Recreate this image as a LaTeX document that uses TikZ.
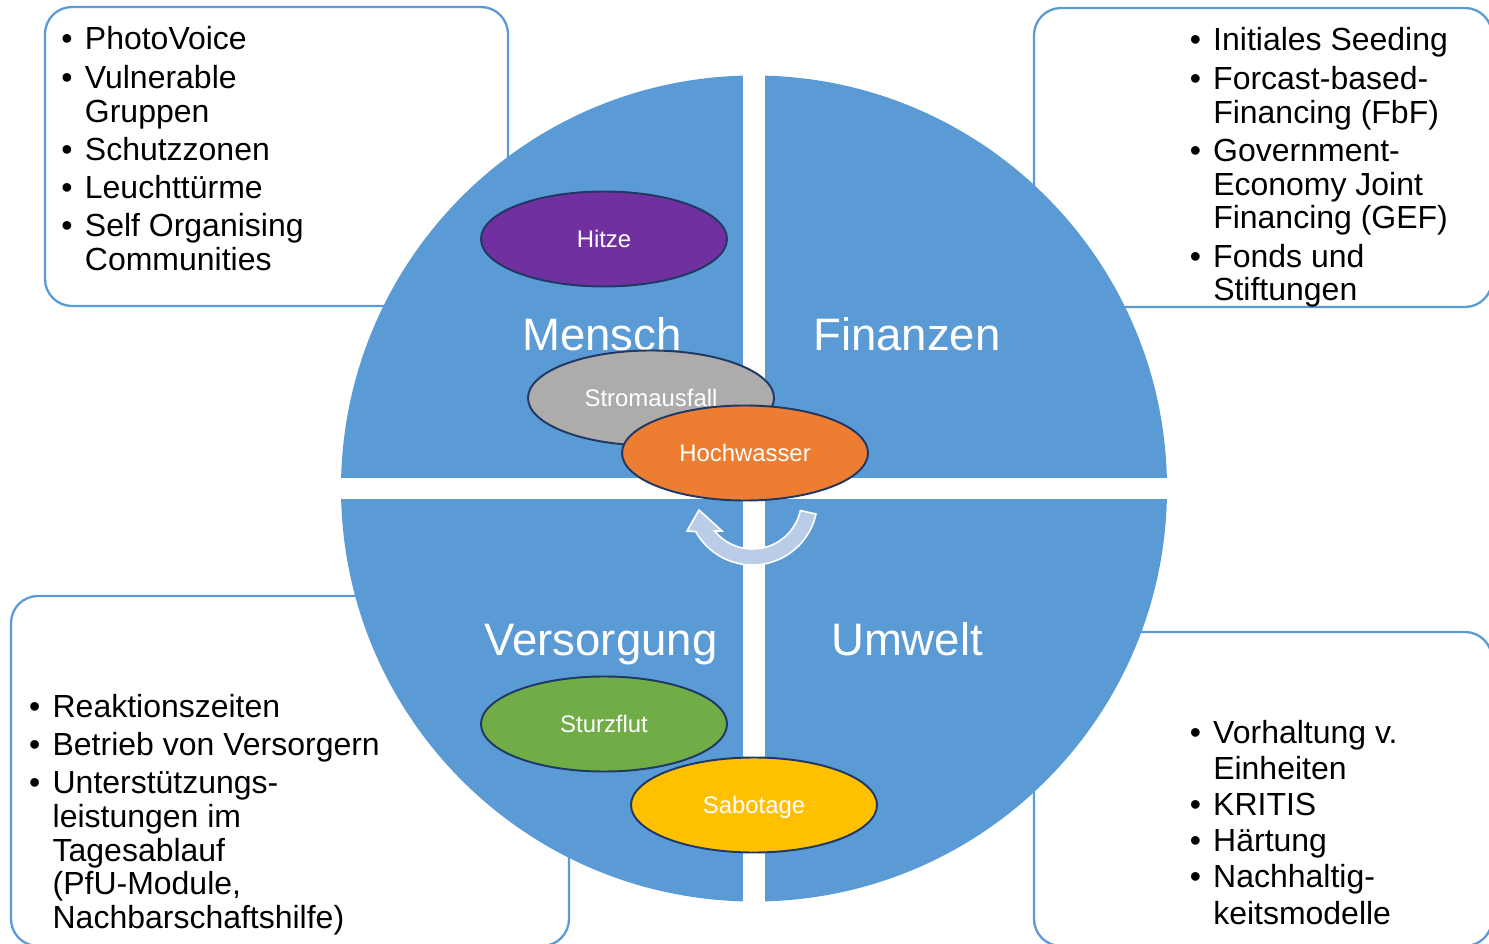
\documentclass[tikz,border=0pt]{standalone}
\usepackage{fontspec}
\setmainfont{Liberation Sans}
\usetikzlibrary{shapes.geometric}

\definecolor{quadblue}{HTML}{5B9BD5}
\definecolor{hazardline}{HTML}{203864}
\definecolor{hitzecol}{HTML}{7030A0}
\definecolor{stromcol}{HTML}{AEABAB}
\definecolor{flutcol}{HTML}{ED7D31}
\definecolor{sturzcol}{HTML}{70AD47}
\definecolor{sabotcol}{HTML}{FFC000}
\definecolor{turnblue}{HTML}{BACDE8}

\newcommand{\itemgap}{2.6pt}

\begin{document}
\begin{tikzpicture}[x=0.2mm, y=-0.2mm,
  listbox/.style={draw=quadblue, line width=1.3pt, rounded corners=5.4mm},
  listtext/.style={anchor=base west, inner sep=0pt, font=\fontsize{18.2}{19.2}\selectfont},
  quadlabel/.style={anchor=base, inner sep=0pt, text=white, font=\fontsize{25.9}{30}\selectfont},
  hazard/.style={ellipse, draw=hazardline, line width=1.1pt, minimum width=49.2mm, minimum height=19mm,
    inner sep=0pt, text=white, font=\fontsize{13.6}{16}\selectfont, text height=9.7pt, text depth=0pt}]
\useasboundingbox (0,0) rectangle (1489,944);
\clip (0,0) rectangle (1489,944);

% boxes behind the circle
\draw[listbox] (45,7) rectangle (508,306);
\draw[listbox] (1034,8) rectangle (1492,307);
\draw[listbox] (11,596) rectangle (569,946);
\draw[listbox] (1034,632) rectangle (1492,946);

\node[listtext] (mensch list) at (61.1,50) {\begin{tabular}[t]{@{}p{4.7mm}@{}l@{}}
\textbullet & PhotoVoice\\[\itemgap]
\textbullet & Vulnerable\\
 & Gruppen\\[\itemgap]
\textbullet & Schutzzonen\\[\itemgap]
\textbullet & Leuchttürme\\[\itemgap]
\textbullet & Self Organising\\
 & Communities
\end{tabular}};
\node[listtext] (finanzen list) at (1189.4,51) {\begin{tabular}[t]{@{}p{4.7mm}@{}l@{}}
\textbullet & Initiales Seeding\\[\itemgap]
\textbullet & Forcast-based-\\
 & Financing (FbF)\\[\itemgap]
\textbullet & Government-\\
 & Economy Joint\\
 & Financing (GEF)\\[\itemgap]
\textbullet & Fonds und\\
 & Stiftungen
\end{tabular}};
\node[listtext] (versorgung list) at (28.8,717) {\begin{tabular}[t]{@{}p{4.7mm}@{}l@{}}
\textbullet & Reaktionszeiten\\[\itemgap]
\textbullet & Betrieb von Versorgern\\[\itemgap]
\textbullet & Unterstützungs-\\
 & leistungen im\\
 & Tagesablauf\\
 & (PfU-Module,\\
 & Nachbarschaftshilfe)
\end{tabular}};
\node[listtext, font=\fontsize{18.2}{20.6}\selectfont] (umwelt list) at (1189.4,743) {\begin{tabular}[t]{@{}p{4.7mm}@{}l@{}}
\textbullet & Vorhaltung v.\\
 & Einheiten\\
\textbullet & KRITIS\\
\textbullet & Härtung\\
\textbullet & Nachhaltig-\\
 & keitsmodelle
\end{tabular}};

% four quarters
\begin{scope}
  \clip (754,488.5) circle[radius=413];
  \fill[quadblue] (330,60) rectangle (743,478);
  \fill[quadblue] (765,60) rectangle (1180,478);
  \fill[quadblue] (330,499) rectangle (743,920);
  \fill[quadblue] (765,499) rectangle (1180,920);
\end{scope}

\node[quadlabel] (mensch) at (602,350) {Mensch};
\node[quadlabel] (finanzen) at (907,350) {Finanzen};
\node[quadlabel] (versorgung) at (601,655) {Versorgung};
\node[quadlabel] (umwelt) at (907,655) {Umwelt};

% turning arrow
\draw[fill=turnblue, draw=white, line width=0.9pt]
  ([shift={(752.5,500)}]12.4:65) arc[start angle=12.4, end angle=150.8, radius=65]
  -- (687,531) -- (699,510) -- (722,531)
  -- ([shift={(752.5,500)}]140.8:49) arc[start angle=140.8, end angle=12.4, radius=49] -- cycle;

\node[hazard, fill=hitzecol] (hitze) at (604,239) {Hitze};
\node[hazard, fill=stromcol] (strom) at (651,398) {Stromausfall};
\node[hazard, fill=flutcol] (hochwasser) at (745,453) {Hochwasser};
\node[hazard, fill=sturzcol] (sturzflut) at (604,724) {Sturzflut};
\node[hazard, fill=sabotcol] (sabotage) at (754,805) {Sabotage};
\end{tikzpicture}
\end{document}
